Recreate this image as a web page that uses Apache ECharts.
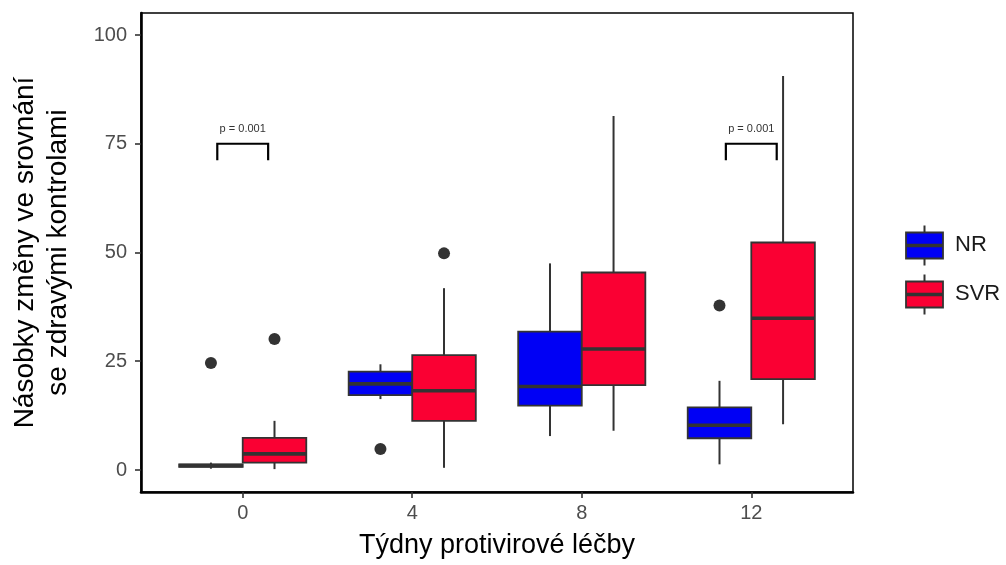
<!DOCTYPE html>
<html>
<head>
<meta charset="utf-8">
<script src="https://cdn.jsdelivr.net/npm/echarts@6/dist/echarts.min.js"></script>
<style>
  html, body { margin: 0; padding: 0; background: #ffffff; }
  #chart { width: 1006px; height: 565px; }
</style>
</head>
<body>
<div id="chart"></div>
<script>
// Weeks of antiviral treatment (x categories)
const weeks = ['0', '4', '8', '12'];
const groups = ['NR', 'SVR'];

// Box statistics per week: [lower whisker, Q1, median, Q3, upper whisker]
const nrStats = [
  [0.3, 0.7, 1.0, 1.3, 1.7],
  [16.3, 17.2, 19.8, 22.6, 24.3],
  [7.8, 14.8, 19.2, 31.8, 47.5],
  [1.3, 7.3, 10.3, 14.4, 20.5]
];
const svrStats = [
  [0.2, 1.7, 3.7, 7.4, 11.3],
  [0.5, 11.3, 18.2, 26.4, 41.8],
  [9.0, 19.5, 27.8, 45.4, 81.4],
  [10.5, 20.9, 34.9, 52.3, 90.6]
];

// Outlying observations: [week index, value]
const nrOutliers = [[0, 24.6], [1, 4.8], [3, 37.8]];
const svrOutliers = [[0, 30.1], [1, 49.8]];

// Significance brackets: [week index, bracket height, label]
const pTests = [[0, 75, 'p = 0.001'], [3, 75, 'p = 0.001']];

const yTicks = [0, 25, 50, 75, 100];

const FONT = '"Liberation Sans", Arial, Helvetica, sans-serif';
const colors = ['#0000F5', '#FA0033'];
const lineDark = '#333333';
const dodge = 0.375;           // width of one group's box in category units
const tipLen = 3.8;            // bracket tip length in data units

function groupX(weekIdx, g) {
  return weekIdx + 1 + (g - 0.5) * dodge;
}

function boxRenderer(g) {
  return function (params, api) {
    const xc = groupX(api.value(0), g);
    const lo = api.coord([xc, api.value(1)]);
    const q1 = api.coord([xc, api.value(2)]);
    const md = api.coord([xc, api.value(3)]);
    const q3 = api.coord([xc, api.value(4)]);
    const hi = api.coord([xc, api.value(5)]);
    const half = api.size([dodge / 2, 0])[0];
    return {
      type: 'group',
      children: [
        {
          type: 'line',
          shape: { x1: lo[0], y1: lo[1], x2: hi[0], y2: hi[1] },
          style: { stroke: lineDark, lineWidth: 2 }
        },
        {
          type: 'rect',
          shape: { x: q3[0] - half, y: q3[1], width: half * 2, height: q1[1] - q3[1] },
          style: { fill: colors[g], stroke: lineDark, lineWidth: 1.8 }
        },
        {
          type: 'line',
          shape: { x1: md[0] - half, y1: md[1], x2: md[0] + half, y2: md[1] },
          style: { stroke: lineDark, lineWidth: 3.6 }
        }
      ]
    };
  };
}

function bracketRenderer(params, api) {
  const c = api.value(0) + 1;
  const h = api.value(1);
  const pL = api.coord([c - 0.15, h]);
  const pR = api.coord([c + 0.15, h]);
  const tL = api.coord([c - 0.15, h - tipLen]);
  const tR = api.coord([c + 0.15, h - tipLen]);
  return {
    type: 'group',
    children: [
      {
        type: 'polyline',
        shape: { points: [tL, pL, pR, tR] },
        style: { stroke: '#000', lineWidth: 2.2, fill: null }
      },
      {
        type: 'text',
        style: {
          x: (pL[0] + pR[0]) / 2,
          y: pL[1] - 9,
          text: api.value(2),
          fill: '#333',
          font: '11px ' + FONT,
          align: 'center',
          verticalAlign: 'bottom'
        }
      }
    ]
  };
}

const boxData = (stats) => stats.map((s, i) => [i].concat(s));
const outlierData = (pts, g) => pts.map(p => [groupX(p[0], g), p[1]]);

function legendKey(y, color) {
  const x = 906, w = 37, h = 26;
  return [
    { type: 'line', shape: { x1: x + w / 2, y1: y - 7, x2: x + w / 2, y2: y + h + 7 },
      style: { stroke: lineDark, lineWidth: 2 } },
    { type: 'rect', shape: { x: x, y: y, width: w, height: h },
      style: { fill: color, stroke: lineDark, lineWidth: 1.8 } },
    { type: 'line', shape: { x1: x, y1: y + h / 2, x2: x + w, y2: y + h / 2 },
      style: { stroke: lineDark, lineWidth: 3.6 } }
  ];
}

const chart = echarts.init(document.getElementById('chart'), null, { renderer: 'canvas' });

chart.setOption({
  animation: false,
  backgroundColor: '#ffffff',
  textStyle: { fontFamily: FONT },
  grid: {
    left: 141, right: 153, top: 13, bottom: 73,
    show: true, borderColor: '#000', borderWidth: 1.5, backgroundColor: '#fff'
  },
  xAxis: {
    type: 'value',
    min: 0.4,
    max: 4.6,
    splitLine: { show: false },
    axisLine: { onZero: false, lineStyle: { color: '#000', width: 2.6 } },
    axisTick: { customValues: [1, 2, 3, 4], length: 6, lineStyle: { color: lineDark, width: 1.6 } },
    axisLabel: {
      customValues: [1, 2, 3, 4],
      formatter: v => weeks[Math.round(v) - 1],
      color: '#4d4d4d', fontSize: 20, margin: 11, fontFamily: FONT
    },
    name: 'Týdny protivirové léčby',
    nameLocation: 'middle',
    nameGap: 40,
    nameTextStyle: { color: '#000', fontSize: 27, fontFamily: FONT }
  },
  yAxis: {
    type: 'value',
    min: -5.06,
    max: 105.06,
    splitLine: { show: false },
    axisLine: { onZero: false, lineStyle: { color: '#000', width: 2.6 } },
    axisTick: { customValues: yTicks, length: 6, lineStyle: { color: lineDark, width: 1.6 } },
    axisLabel: {
      customValues: yTicks,
      color: '#4d4d4d', fontSize: 20, margin: 14, fontFamily: FONT
    },
    name: 'Násobky změny ve srovnání\nse zdravými kontrolami',
    nameLocation: 'middle',
    nameRotate: 90,
    nameGap: 66,
    nameTextStyle: { color: '#000', fontSize: 28, lineHeight: 33, fontFamily: FONT, align: 'center' }
  },
  series: [
    {
      name: groups[0], type: 'custom', renderItem: boxRenderer(0),
      data: boxData(nrStats), encode: { x: 0, y: [1, 2, 3, 4, 5] }, z: 2
    },
    {
      name: groups[1], type: 'custom', renderItem: boxRenderer(1),
      data: boxData(svrStats), encode: { x: 0, y: [1, 2, 3, 4, 5] }, z: 2
    },
    {
      name: groups[0] + ' outliers', type: 'scatter', data: outlierData(nrOutliers, 0),
      symbolSize: 12, itemStyle: { color: lineDark, opacity: 1 }, z: 3
    },
    {
      name: groups[1] + ' outliers', type: 'scatter', data: outlierData(svrOutliers, 1),
      symbolSize: 12, itemStyle: { color: lineDark, opacity: 1 }, z: 3
    },
    {
      name: 'significance', type: 'custom', renderItem: bracketRenderer,
      data: pTests, encode: { x: 0, y: 1 }, z: 4
    }
  ],
  graphic: [
    ...legendKey(232.5, colors[0]),
    ...legendKey(281.5, colors[1]),
    { type: 'text', left: 955, top: 234, style: { text: groups[0], font: '22px ' + FONT, fill: '#1a1a1a' } },
    { type: 'text', left: 955, top: 283, style: { text: groups[1], font: '22px ' + FONT, fill: '#1a1a1a' } }
  ]
});
</script>
</body>
</html>
